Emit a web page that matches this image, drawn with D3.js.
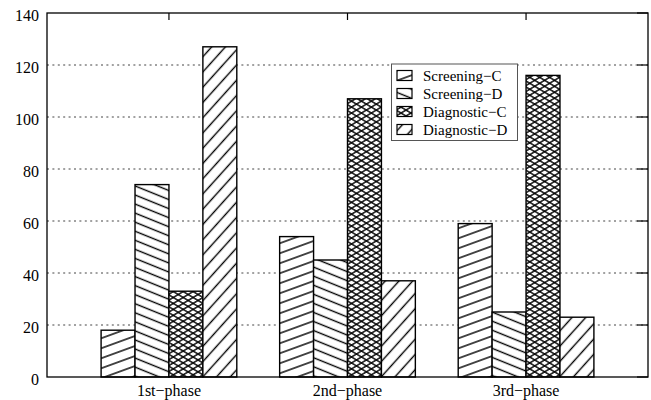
<!DOCTYPE html>
<html><head><meta charset="utf-8">
<script src="https://cdn.jsdelivr.net/npm/d3@7"></script>
<style>body{margin:0;background:#fff}svg{display:block}</style>
</head><body>
<svg id="chart" width="651" height="400"></svg>
<script>
const categories = ["1st\u2212phase", "2nd\u2212phase", "3rd\u2212phase"];
const seriesNames = ["Screening\u2212C", "Screening\u2212D", "Diagnostic\u2212C", "Diagnostic\u2212D"];
const screeningC = [18, 54, 59];
const screeningD = [74, 45, 25];
const diagnosticC = [33, 107, 116];
const diagnosticD = [127, 37, 23];
const yTicks = [0, 20, 40, 60, 80, 100, 120, 140];
const seriesValues = [screeningC, screeningD, diagnosticC, diagnosticD];

const svg = d3.select("#chart");
const L = 47, R = 648, T = 13, B = 377;
const x = d3.scaleLinear().domain([-0.683, 2.683]).range([L, R]);
const y = d3.scaleLinear().domain([0, 140]).range([B, T]);
const bw = 0.19;
const font = "'Liberation Serif','Times New Roman',serif";

// patterns: each family = [angleDeg, perpendicular spacing]
const patDefs = [
  [[-20, 9.4]],
  [[22, 8.4]],
  [[-31, 5.1], [31, 5.1]],
  [[-48, 10.2]]
];
const defs = svg.append("defs");
patDefs.forEach((fams, si) => {
  fams.forEach((f, fi) => {
    const p = defs.append("pattern")
      .attr("id", `p${si}_${fi}`)
      .attr("patternUnits", "userSpaceOnUse")
      .attr("width", 20).attr("height", f[1])
      .attr("patternTransform", `rotate(${f[0]})`);
    p.append("line").attr("x1", -1).attr("x2", 21)
      .attr("y1", f[1] / 2).attr("y2", f[1] / 2)
      .attr("stroke", "#000").attr("stroke-width", 1.4);
  });
});

// grid
const gridVals = yTicks.filter(v => v > 0 && v < 140);
svg.append("g").selectAll("line").data(gridVals).join("line")
  .attr("x1", L).attr("x2", R).attr("y1", d => y(d)).attr("y2", d => y(d))
  .attr("stroke", "#444").attr("stroke-width", 1).attr("stroke-dasharray", "2,3.4");

// right ticks
svg.append("g").selectAll("line").data(yTicks).join("line")
  .attr("x1", R - 11).attr("x2", R).attr("y1", d => y(d)).attr("y2", d => y(d))
  .attr("stroke", "#000").attr("stroke-width", 1.2);
// top ticks
svg.append("g").selectAll("line").data(categories).join("line")
  .attr("x1", (d, i) => x(i)).attr("x2", (d, i) => x(i)).attr("y1", T).attr("y2", T + 7)
  .attr("stroke", "#000").attr("stroke-width", 1.2);

// bars
const bars = svg.append("g");
seriesValues.forEach((vals, si) => {
  vals.forEach((v, ci) => {
    const x0 = x(ci + (si - 2) * bw), x1 = x(ci + (si - 1) * bw);
    const r = { x: x0, y: y(v), w: x1 - x0, h: y(0) - y(v) };
    bars.append("rect").attr("x", r.x).attr("y", r.y).attr("width", r.w).attr("height", r.h).attr("fill", "#fff");
    patDefs[si].forEach((f, fi) => {
      bars.append("rect").attr("x", r.x).attr("y", r.y).attr("width", r.w).attr("height", r.h)
        .attr("fill", `url(#p${si}_${fi})`);
    });
    bars.append("rect").attr("x", r.x).attr("y", r.y).attr("width", r.w).attr("height", r.h)
      .attr("fill", "none").attr("stroke", "#000").attr("stroke-width", 1.4);
  });
});

// frame
svg.append("rect").attr("x", L).attr("y", T).attr("width", R - L).attr("height", B - T)
  .attr("fill", "none").attr("stroke", "#000").attr("stroke-width", 1.3);

// y tick labels
svg.append("g").selectAll("text").data(yTicks).join("text")
  .attr("x", 39).attr("y", d => y(d) + 7.5)
  .attr("text-anchor", "end").attr("font-family", font).attr("font-size", 16)
  .text(d => d);

// x labels
svg.append("g").selectAll("text").data(categories).join("text")
  .attr("x", (d, i) => x(i)).attr("y", 396)
  .attr("text-anchor", "middle").attr("font-family", font).attr("font-size", 16)
  .text(d => d);

// legend
const lg = svg.append("g");
lg.append("rect").attr("x", 391.5).attr("y", 64).attr("width", 126).attr("height", 76.5)
  .attr("fill", "#fff").attr("stroke", "#555").attr("stroke-width", 1);
seriesNames.forEach((name, si) => {
  const by = 80.5 + si * 18;
  lg.append("rect").attr("x", 397).attr("y", by - 10).attr("width", 15).attr("height", 10).attr("fill", "#fff");
  patDefs[si].forEach((f, fi) => {
    lg.append("rect").attr("x", 397).attr("y", by - 10).attr("width", 15).attr("height", 10)
      .attr("fill", `url(#p${si}_${fi})`);
  });
  lg.append("rect").attr("x", 397).attr("y", by - 10).attr("width", 15).attr("height", 10)
    .attr("fill", "none").attr("stroke", "#000").attr("stroke-width", 1.2);
  lg.append("text").attr("x", 423).attr("y", by)
    .attr("font-family", font).attr("font-size", 15).text(name);
});
</script>
</body></html>
